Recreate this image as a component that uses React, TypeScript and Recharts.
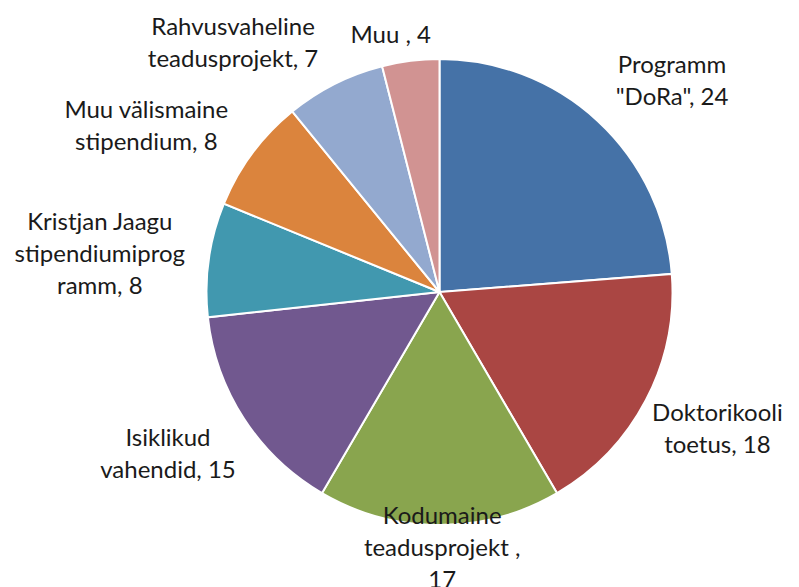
import { PieChart, Pie, Cell } from 'recharts';

// "\n" marks where the data label wraps
const CATEGORIES = [
    'Programm\n"DoRa"',
    'Doktorikooli\ntoetus',
    'Kodumaine\nteadusprojekt ',
    'Isiklikud\nvahendid',
    'Kristjan Jaagu\nstipendiumiprog\nramm',
    'Muu välismaine\nstipendium',
    'Rahvusvaheline\nteadusprojekt',
    'Muu ',
];
const VALUES = [24, 18, 17, 15, 8, 8, 7, 4];
// value goes on its own line for these labels
const VALUE_ON_OWN_LINE = [false, false, true, false, false, false, false, false];

const COLORS = ['#4572a7', '#aa4643', '#89a54e', '#71588f', '#4198af', '#db843d', '#93a9cf', '#d19392'];

// label placement: distance from centre and angle nudge (deg, clockwise)
const LABEL_DIST = [315, 309, 254, 315, 342, 338, 325, 264];
const LABEL_SHIFT = [4.8, -1.7, -0.6, 2.5, -1.3, -6.7, -12.7, -3.5];

const LINE_H = 32;
const RAD = Math.PI / 180;

const data = CATEGORIES.map((name, i) => ({ name, value: VALUES[i] }));

function renderLabel(props: any) {
    const { cx, cy, midAngle, index, value, name } = props;
    const theta = (90 - midAngle + LABEL_SHIFT[index]) * RAD;
    const r = LABEL_DIST[index];
    const x = cx + r * Math.sin(theta);
    const y = cy - r * Math.cos(theta);
    const text = `${name},${VALUE_ON_OWN_LINE[index] ? '\n' : ' '}${value}`;
    const lines = text.split('\n');
    const top = y - ((lines.length - 1) * LINE_H) / 2;
    return (
        <text
            x={x}
            y={top}
            textAnchor="middle"
            dominantBaseline="central"
            fill="#1a1a1a"
            style={{ fontFamily: 'Lato, sans-serif', fontSize: 24 }}
        >
            {lines.map((l, i) => (
                <tspan key={i} x={x} y={top + i * LINE_H}>{l}</tspan>
            ))}
        </text>
    );
}

export default function App() {
    return (
        <div style={{ position: 'absolute', left: 0, top: 0, background: '#fff' }}>
            <PieChart width={799} height={587} margin={{ top: 0, right: 0, bottom: 0, left: 0 }}>
                <Pie
                    data={data}
                    dataKey="value"
                    nameKey="name"
                    cx={439.5}
                    cy={292}
                    outerRadius={233}
                    startAngle={90}
                    endAngle={-270}
                    stroke="#ffffff"
                    strokeWidth={2}
                    label={renderLabel}
                    labelLine={false}
                    isAnimationActive={false}
                >
                    {data.map((_, i) => (
                        <Cell key={`cell-${i}`} fill={COLORS[i]} />
                    ))}
                </Pie>
            </PieChart>
        </div>
    );
}
